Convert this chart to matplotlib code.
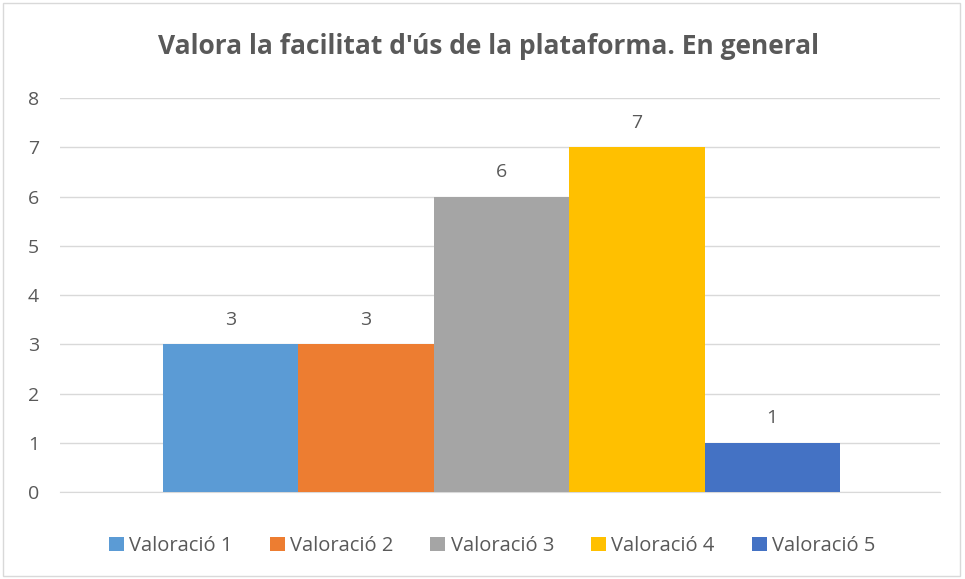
import matplotlib.pyplot as plt
from matplotlib.patches import Rectangle

# Data
labels = ['Valoració 1', 'Valoració 2', 'Valoració 3', 'Valoració 4', 'Valoració 5']
values = [3, 3, 6, 7, 1]
colors = ['#5B9BD5', '#ED7D31', '#A5A5A5', '#FFC000', '#4472C4']
yticks = [0, 1, 2, 3, 4, 5, 6, 7, 8]

plt.rcParams['font.family'] = ['Open Sans', 'DejaVu Sans']
text_color = '#595959'

fig = plt.figure(figsize=(9.65, 5.79), dpi=100)
ax = fig.add_axes([0.0622, 0.150, 0.912, 0.6805])

# border around the chart like the Excel frame
fig.patches.append(Rectangle((0.003, 0.005), 0.992, 0.99, transform=fig.transFigure,
                             fill=False, edgecolor='#D9D9D9', linewidth=1))

w = 1.0
for i, (lab, v, c) in enumerate(zip(labels, values, colors)):
    x = (i - 2) * w
    ax.bar(x, v, width=w, color=c, label=lab, zorder=3)
    ax.text(x, v + 0.5, str(v), ha='center', va='center', fontsize=14, color=text_color)

ax.set_xlim(-3.26, 3.24)
ax.set_ylim(0, 8)
ax.set_yticks(yticks)
ax.set_xticks([])
ax.tick_params(axis='y', length=0, labelsize=14, labelcolor=text_color, pad=15)
ax.grid(axis='y', color='#D9D9D9', linewidth=1, zorder=0)
for s in ['top', 'right', 'left']:
    ax.spines[s].set_visible(False)
ax.spines['bottom'].set_color('#D9D9D9')

fig.text(0.506, 0.919, "Valora la facilitat d'ús de la plataforma. En general",
         ha='center', va='center', fontsize=19, fontweight='bold', color=text_color)

leg = fig.legend(loc='center', bbox_to_anchor=(0.51, 0.057), ncol=5, frameon=False,
                 fontsize=14.5, handlelength=0.75, handleheight=0.75, handletextpad=0.25,
                 columnspacing=1.85, labelcolor=text_color)

fig.savefig('out.png', dpi=100)
